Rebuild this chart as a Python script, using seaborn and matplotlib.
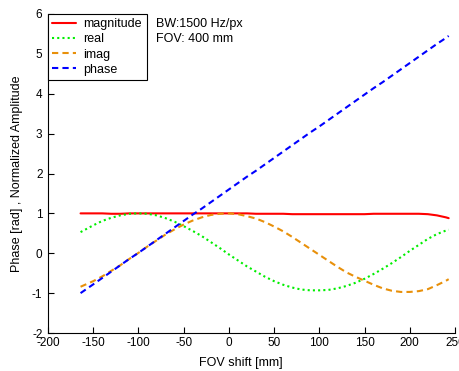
import numpy as np
import pandas as pd
import matplotlib
matplotlib.use('Agg')
import matplotlib.pyplot as plt
import seaborn as sns

# FOV shift positions (mm)
fov_shift = [-164, -150, -140, -130, -120, -110, -100, -90, -80, -70, -60,
             -50, -40, -30, -20, -10, 0, 10, 20, 30, 40, 50, 60, 70, 80, 90,
             100, 110, 120, 130, 140, 150, 160, 170, 180, 190, 200, 210, 220,
             230, 240, 243]

magnitude = [1.00, 1.00, 1.00, 0.99, 0.99, 1.00, 1.00, 1.00, 1.00, 1.00, 1.00,
             1.00, 1.00, 1.00, 1.00, 1.00, 1.00, 1.00, 1.00, 0.99, 0.99, 0.99,
             0.99, 0.98, 0.98, 0.98, 0.98, 0.98, 0.98, 0.98, 0.98, 0.98, 0.99,
             0.99, 0.99, 0.99, 0.99, 0.99, 0.98, 0.95, 0.90, 0.88]

real = [0.53, 0.70, 0.81, 0.89, 0.95, 0.99, 1.00, 0.99, 0.95, 0.88, 0.79,
        0.68, 0.56, 0.43, 0.28, 0.13, -0.03, -0.18, -0.33, -0.46, -0.59, -0.70,
        -0.79, -0.86, -0.91, -0.93, -0.93, -0.92, -0.88, -0.82, -0.74, -0.64,
        -0.52, -0.39, -0.25, -0.10, 0.06, 0.21, 0.36, 0.48, 0.57, 0.59]

imag = [-0.84, -0.70, -0.58, -0.44, -0.30, -0.14, 0.01, 0.17, 0.32, 0.47, 0.60,
        0.72, 0.82, 0.90, 0.96, 0.99, 1.00, 0.98, 0.93, 0.87, 0.78, 0.67,
        0.55, 0.41, 0.26, 0.11, -0.04, -0.19, -0.34, -0.48, -0.59, -0.69,
        -0.79, -0.88, -0.94, -0.97, -0.97, -0.95, -0.90, -0.80, -0.69, -0.65]

phase = [-1.00, -0.78, -0.62, -0.46, -0.30, -0.14, 0.01, 0.17, 0.33, 0.49, 0.65,
         0.81, 0.97, 1.12, 1.28, 1.44, 1.60, 1.76, 1.92, 2.07, 2.23, 2.39,
         2.55, 2.71, 2.87, 3.03, 3.18, 3.34, 3.50, 3.66, 3.82, 3.98, 4.14,
         4.29, 4.45, 4.61, 4.77, 4.93, 5.09, 5.25, 5.40, 5.45]

sns.set_style('ticks')
plt.rcParams['font.family'] = ['Liberation Sans', 'DejaVu Sans']
plt.rcParams['axes.unicode_minus'] = False
plt.rcParams['text.color'] = 'black'
plt.rcParams['axes.labelcolor'] = 'black'
plt.rcParams['xtick.color'] = 'black'
plt.rcParams['ytick.color'] = 'black'

fig = plt.figure(figsize=(4.59, 3.71), dpi=100)
ax = fig.add_axes([48 / 459, 38 / 371, 407 / 459, 319 / 371])

df = pd.DataFrame({'x': fov_shift, 'magnitude': magnitude, 'real': real,
                   'imag': imag, 'phase': phase})

styles = {
    'magnitude': dict(color='#ff0000', linestyle='-'),
    'real': dict(color='#00ee00', linestyle=(0, (1, 1.5))),
    'imag': dict(color='#e8900a', linestyle=(0, (3, 2))),
    'phase': dict(color='#0000ff', linestyle=(0, (3, 2))),
}
for name, st in styles.items():
    sns.lineplot(data=df, x='x', y=name, ax=ax, label=name, linewidth=1.5, **st)

ax.set_xlim(-200, 250)
ax.set_ylim(-2, 6)
ax.set_xticks(range(-200, 251, 50))
ax.set_yticks(range(-2, 7))
ax.tick_params(direction='in', length=4, width=0.8, color='black',
               labelsize=8.5, labelcolor='black',
               bottom=True, left=True, top=False, right=False)
ax.tick_params(axis='x', pad=3)
ax.tick_params(axis='y', pad=4)
for s in ['top', 'right']:
    ax.spines[s].set_visible(False)
for s in ['left', 'bottom']:
    ax.spines[s].set_color('black')
    ax.spines[s].set_linewidth(0.8)

ax.set_xlabel('FOV shift [mm]', fontsize=9)
ax.set_ylabel('Phase [rad] , Normalized Amplitude', fontsize=9)
ax.xaxis.set_label_coords(0.474, -0.075)
ax.yaxis.set_label_coords(-0.062, 0.5)

leg = ax.legend(loc='upper left', borderaxespad=0, fancybox=False,
                edgecolor='black', framealpha=1, fontsize=9,
                handlelength=1.9, handletextpad=0.6, labelspacing=0.25,
                borderpad=0.35)
leg.get_frame().set_linewidth(0.8)

ax.text(-81, 5.9, 'BW:1500 Hz/px\nFOV: 400 mm', fontsize=9, va='top',
        ha='left', linespacing=1.3)

fig.savefig('out.png', dpi=100, facecolor='white')
